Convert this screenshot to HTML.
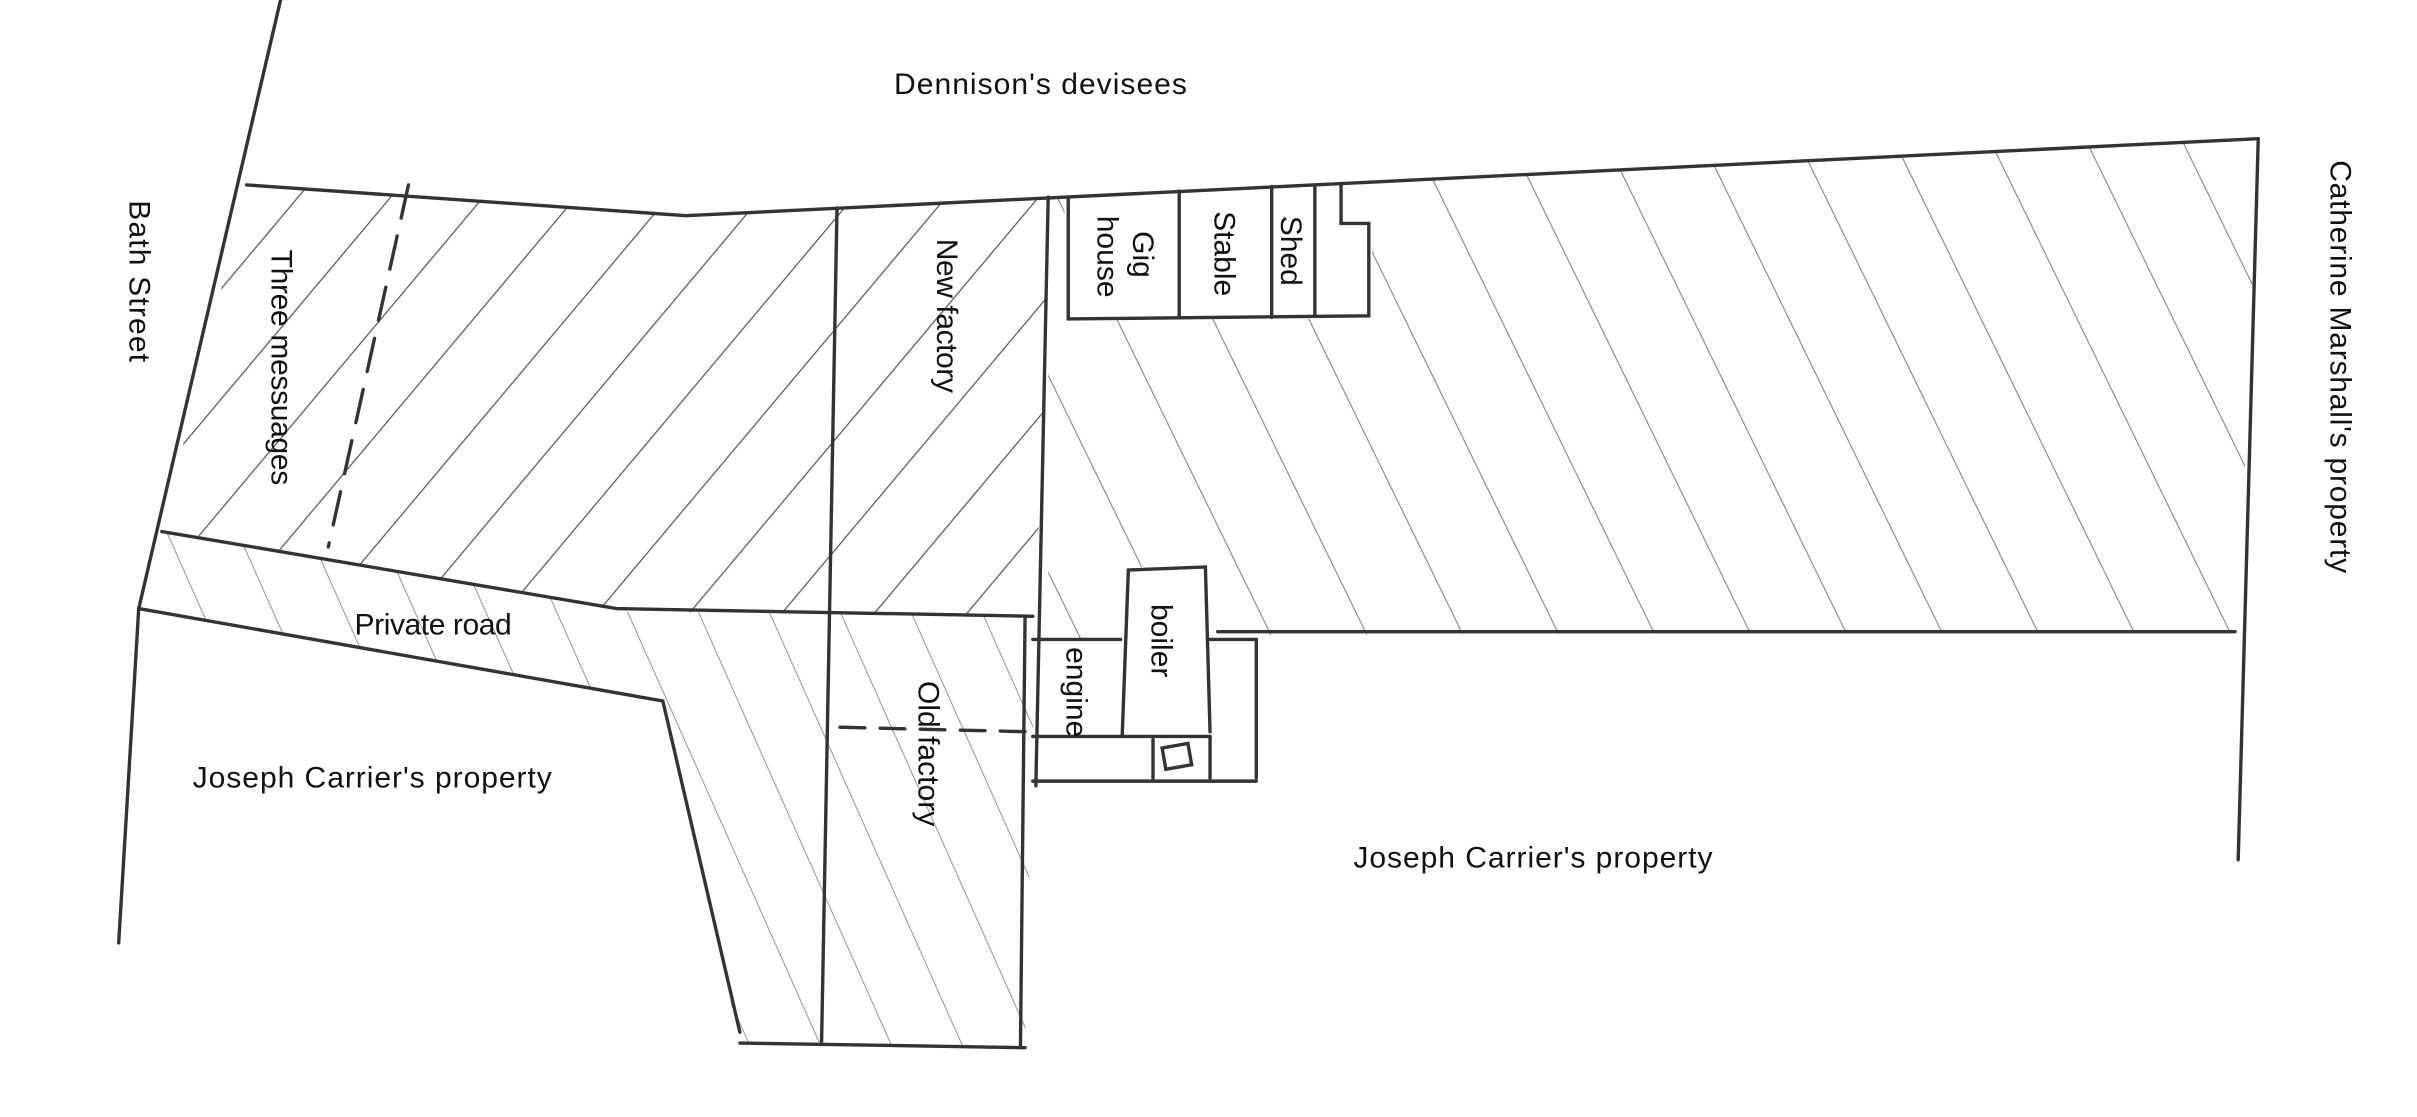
<!DOCTYPE html>
<html><head><style>
html,body{margin:0;padding:0;background:#fff;}
svg{display:block;}
text{font-family:"Liberation Sans",sans-serif;font-size:19.5px;fill:#111;}
</style></head><body>
<svg width="2417" height="1117" viewBox="0 0 1568 725" preserveAspectRatio="none" xmlns="http://www.w3.org/2000/svg">
<defs>
<pattern id="hl" patternUnits="userSpaceOnUse" width="46" height="46" patternTransform="rotate(40)">
<line x1="0" y1="0" x2="0" y2="46" stroke="#555" stroke-width="1.6"/>
</pattern>
<pattern id="hr" patternUnits="userSpaceOnUse" width="56" height="56" patternTransform="rotate(-26)">
<line x1="0" y1="0" x2="0" y2="56" stroke="#888" stroke-width="1.5"/>
</pattern>
<pattern id="hr2" patternUnits="userSpaceOnUse" width="42" height="42" patternTransform="rotate(-24)">
<line x1="0" y1="0" x2="0" y2="42" stroke="#999" stroke-width="1.4"/>
</pattern>
</defs>
<rect width="1568" height="725" fill="#fff"/>
<polygon points="160,120 445,140 680,128 672,400 405,397 105,345" fill="url(#hl)"/>
<polygon points="680,128 1465,90 1452,410 815,412 785,415 782,368 732,368 730,415 680,415" fill="url(#hr)"/>
<polygon points="690,120 890,110 890,207 693,207" fill="#fff"/>
<polygon points="105,345 405,397 430,455 90,395" fill="url(#hr2)"/>
<polygon points="405,397 672,400 665,680 480,677 430,455" fill="url(#hr2)"/>
<g fill="none" stroke="#333" stroke-width="2.2" stroke-linecap="round">
<line x1="182" y1="0" x2="90" y2="395"/>
<line x1="90" y1="395" x2="77" y2="612"/>
<polyline points="160,120 445,140 1465,90"/>
<line x1="1465" y1="90" x2="1452" y2="558"/>
<polyline points="105,345 400,395 670,400"/>
<polyline points="90,395 430,455 480,670"/>
<line x1="480" y1="677" x2="665" y2="680"/>
<line x1="665" y1="400" x2="662" y2="680"/>
<line x1="543" y1="135" x2="533" y2="676"/>
<line x1="680" y1="128" x2="672" y2="510"/>
<line x1="265" y1="120" x2="213" y2="355" stroke-dasharray="22,12"/>
<line x1="545" y1="472" x2="668" y2="475" stroke-dasharray="16,10"/>
<polyline points="693,128 693,207 888,205 888,145 870,145 870,120"/>
<line x1="765" y1="124" x2="765" y2="206"/>
<line x1="825" y1="121" x2="825" y2="206"/>
<line x1="853" y1="120" x2="853" y2="205"/>
<polyline points="728,478 732,370 782,368 785,475"/>
<line x1="670" y1="415" x2="727" y2="415"/>
<line x1="670" y1="478" x2="785" y2="478"/>
<line x1="670" y1="507" x2="815" y2="507"/>
<line x1="815" y1="415" x2="815" y2="505"/>
<line x1="785" y1="415" x2="815" y2="415"/>
<line x1="790" y1="410" x2="1450" y2="410"/>
<line x1="748" y1="480" x2="748" y2="505"/>
<line x1="785" y1="478" x2="785" y2="505"/>
<rect x="755" y="484" width="17" height="14" transform="rotate(-10 763 491)"/>
</g>
<text x="580" y="61" textLength="190">Dennison's devisees</text>
<text x="125" y="511" textLength="233">Joseph Carrier's property</text>
<text x="878" y="563" textLength="233">Joseph Carrier's property</text>
<text x="230" y="412" textLength="102">Private road</text>
<text transform="translate(84,130) rotate(90)" textLength="105">Bath Street</text>
<text transform="translate(1512,104) rotate(90)" textLength="268">Catherine Marshall's property</text>
<text transform="translate(176,162) rotate(90)" textLength="153">Three messuages</text>
<text transform="translate(608,155) rotate(90)" textLength="100">New factory</text>
<text transform="translate(596,442) rotate(90)">Old factory</text>
<text transform="translate(735,150) rotate(90)">Gig</text>
<text transform="translate(712,140) rotate(90)">house</text>
<text transform="translate(788,137) rotate(90)">Stable</text>
<text transform="translate(831,140) rotate(90)">Shed</text>
<text transform="translate(747,392) rotate(90)">boiler</text>
<text transform="translate(692,420) rotate(90)">engine</text>
</svg>
</body></html>
